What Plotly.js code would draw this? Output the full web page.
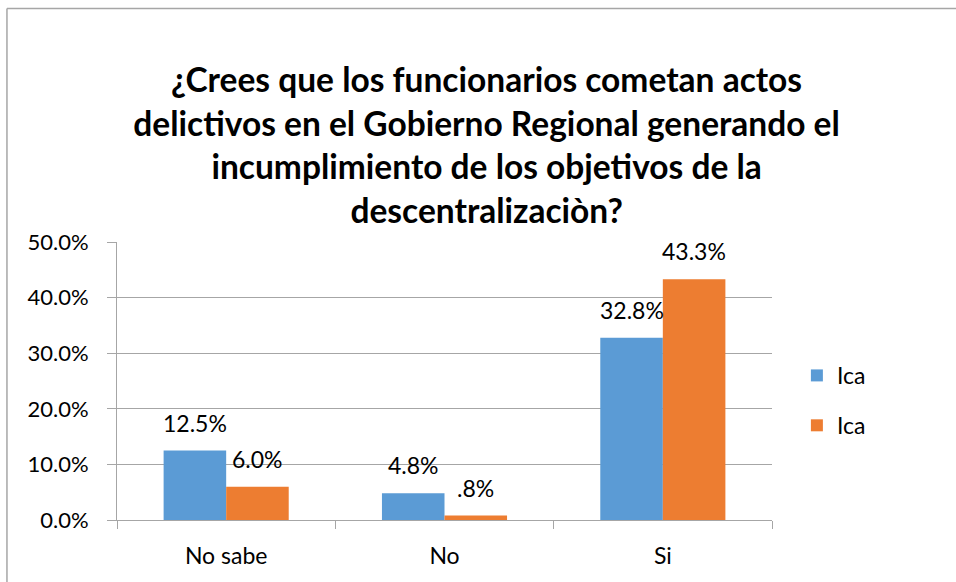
<!DOCTYPE html>
<html>
<head>
<meta charset="utf-8">
<script src="https://cdn.plot.ly/plotly-3.0.1.min.js"></script>
<style>
  html, body { margin: 0; padding: 0; background: #fff; }
  #plot { width: 956px; height: 582px; }
</style>
</head>
<body>
<div id="plot"></div>
<script>
// Categories and the two "Ica" series (fractions)
const categories = ["No sabe", "No", "Si"];
const serie1 = [0.125, 0.048, 0.328];
const serie2 = [0.060, 0.008, 0.433];
const labels1 = ["12.5%", "4.8%", "32.8%"];
const labels2 = ["6.0%", ".8%", "43.3%"];
const seriesNames = ["Ica", "Ica"];

const blue = "#5B9BD5";
const orange = "#ED7D31";
const font = "Lato, 'Open Sans', sans-serif";

const trace1 = {
  x: categories,
  y: serie1,
  name: seriesNames[0],
  type: "bar",
  legendgroup: "a",
  marker: { color: blue },
  hoverinfo: "none"
};

const trace2 = {
  x: categories,
  y: serie2,
  name: seriesNames[1],
  type: "bar",
  legendgroup: "b",
  marker: { color: orange },
  hoverinfo: "none"
};

// data labels above each bar
const annotations = [];
categories.forEach((c, i) => {
  annotations.push({
    x: c, y: serie1[i], xref: "x", yref: "y",
    text: labels1[i], showarrow: false,
    yanchor: "bottom", xshift: -31, yshift: 12,
    font: { family: font, size: 23, color: "#000" }
  });
  annotations.push({
    x: c, y: serie2[i], xref: "x", yref: "y",
    text: labels2[i], showarrow: false,
    yanchor: "bottom", xshift: 31, yshift: 12,
    font: { family: font, size: 23, color: "#000" }
  });
});

const layout = {
  width: 956,
  height: 582,
  margin: { l: 117, r: 184, t: 242, b: 62 },
  paper_bgcolor: "#fff",
  plot_bgcolor: "#fff",
  barmode: "group",
  bargap: 0.427,
  bargroupgap: 0,
  font: { family: font, size: 22, color: "#000" },
  title: {
    text: "¿Crees que los funcionarios cometan actos<br>delictivos en el Gobierno Regional generando el<br>incumplimiento de los objetivos de la<br>descentralizaciòn?",
    font: { family: font, size: 33.5, color: "#000", weight: "bold" },
    x: 0.509,
    xanchor: "center",
    y: 0.842,
    yanchor: "top"
  },
  xaxis: {
    showline: true,
    linecolor: "#A6A6A6",
    linewidth: 1,
    ticks: "outside",
    tickson: "boundaries",
    ticklen: 8,
    tickcolor: "#A6A6A6",
    showgrid: false,
    tickfont: { family: font, size: 23 },
    ticklabelstandoff: 15,
    fixedrange: true
  },
  yaxis: {
    range: [0, 0.5],
    dtick: 0.1,
    tickformat: ".1%",
    showline: true,
    linecolor: "#A6A6A6",
    ticks: "outside",
    ticklen: 9,
    tickcolor: "#A6A6A6",
    gridcolor: "#A6A6A6",
    zeroline: false,
    tickfont: { family: font, size: 22 },
    ticklabelstandoff: 14,
    fixedrange: true
  },
  legend: {
    x: 1.038,
    xanchor: "left",
    y: 0.43,
    yanchor: "middle",
    traceorder: "grouped",
    tracegroupgap: 17,
    font: { family: font, size: 23 },
    itemwidth: 30
  },
  annotations: annotations,
  shapes: [
    // chart frame (left and top edges visible)
    { type: "line", xref: "paper", yref: "paper", x0: -0.168, x1: -0.168, y0: -0.3, y1: 1.84, line: { color: "#A6A6A6", width: 1.5 } },
    { type: "line", xref: "paper", yref: "paper", x0: -0.168, x1: 1.3, y0: 1.84, y1: 1.84, line: { color: "#A6A6A6", width: 1.5 } }
  ]
};

Plotly.newPlot("plot", [trace1, trace2], layout, { displayModeBar: false, staticPlot: true });
</script>
</body>
</html>
